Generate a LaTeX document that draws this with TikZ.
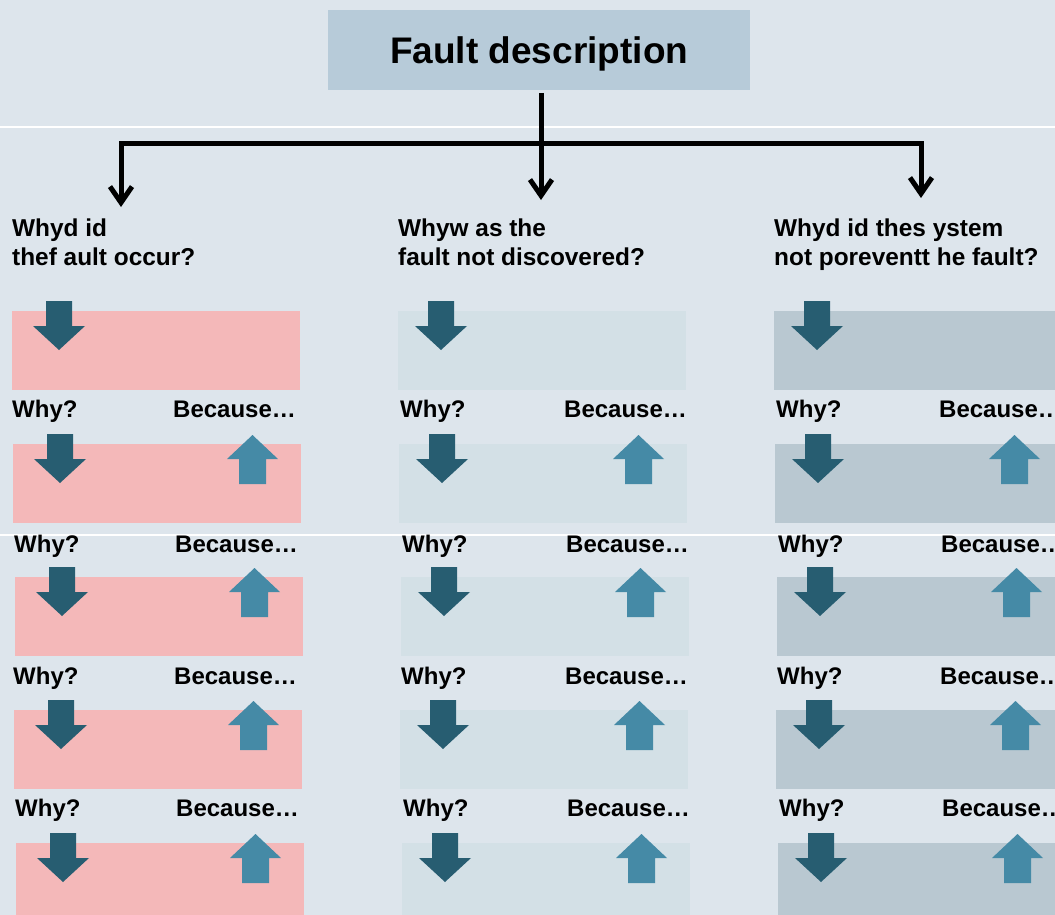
\documentclass[tikz,border=0pt]{standalone}
\usepackage{fontspec}
\setmainfont{Liberation Sans}
\usetikzlibrary{arrows.meta}
\definecolor{bg}{HTML}{DDE5EC}
\definecolor{titlefill}{HTML}{B7CBD9}
\definecolor{pinkbox}{HTML}{F4B8B9}
\definecolor{midbox}{HTML}{D3E0E6}
\definecolor{rightbox}{HTML}{B9C8D1}
\definecolor{darkarr}{HTML}{275D71}
\definecolor{lightarr}{HTML}{458AA6}
\begin{document}
\begin{tikzpicture}[x=1pt,y=-1pt,
  conn/.style={line width=5pt,black,line join=miter},
  barbtip/.tip={Straight Barb[length=16pt,width=22pt,line width=5pt]},
  stepbox/.style={anchor=north west,inner sep=0pt,minimum width=288pt,minimum height=79pt},
  qtext/.style={anchor=north west,inner sep=0pt,align=left,font=\fontsize{24.4}{29}\selectfont\bfseries},
  lbl/.style={anchor=base west,inner sep=0pt,font=\fontsize{24}{29}\selectfont\bfseries},
  dnarr/.pic={\fill[darkarr] (-13,0) -- (13,0) -- (13,25) -- (26,25) -- (0,49) -- (-26,25) -- (-13,25) -- cycle;},
  uparr/.pic={\fill[lightarr] (0,0) -- (25.5,24) -- (13.5,24) -- (13.5,49) -- (-13.5,49) -- (-13.5,24) -- (-25.5,24) -- cycle;}
]
\useasboundingbox (0,0) rectangle (1055,915);
\clip (0,0) rectangle (1055,915);
\fill[bg] (0,0) rectangle (1055,915);
\draw[white,line width=1.5pt] (0,127) -- (1055,127);
\draw[white,line width=1.5pt] (0,535) -- (1055,535);

\node[fill=titlefill,inner sep=0pt,minimum width=422pt,minimum height=80pt,anchor=north west,
  text depth=0pt,font=\fontsize{37}{44}\selectfont\bfseries] (title) at (328,10) {Fault description};

% questions
\node[qtext] (qL) at (12,218.5) {Whyd id\\thef ault occur?};
\node[qtext] (qM) at (398,218.5) {Whyw as the\\fault not discovered?};
\node[qtext] (qR) at (774,218.5) {Whyd id thes ystem\\not poreventt he fault?};

% connectors
\coordinate (top) at (541,93);
\coordinate (tipM) at (541,200);
\coordinate (cL) at (121,144);
\coordinate (cR) at (921,144);
\coordinate (tipL) at (121,207);
\coordinate (tipR) at (921,198);
\draw[conn,-barbtip] (top) -- (tipM);
\draw[conn,barbtip-barbtip] (tipL) -- (cL) -- (cR) -- (tipR);

% boxes and arrows
\foreach \col/\x/\fillc/\dn in {L/12/pinkbox/47, M/398/midbox/43, R/774/rightbox/43} {
  \foreach \r/\dx in {1/0,2/1,3/3,4/2,5/4} {
    \pgfmathsetmacro\bt{311+133*(\r-1)}
    \pgfmathsetmacro\bx{\x+\dx}
    \node[stepbox,fill=\fillc] (box\col\r) at (\bx,\bt) {};
    \pic at (\bx+\dn,\bt-10) {dnarr};
    \ifnum\r>1
      \pic at (\bx+239.5,\bt-9) {uparr};
    \fi
  }
}

% labels
\foreach \col/\x/\w/\b in {L/12/0/161, M/398/2/166, R/774/2/165} {
  \foreach \r/\base/\d in {1/417/0, 2/552/2, 3/684/1, 4/816/3} {
    \node[lbl] (why\col\r) at (\x+\w+\d,\base) {Why?};
    \node[lbl] (bec\col\r) at (\x+\b+\d,\base) {Because…};
  }
}
\end{tikzpicture}
\end{document}
